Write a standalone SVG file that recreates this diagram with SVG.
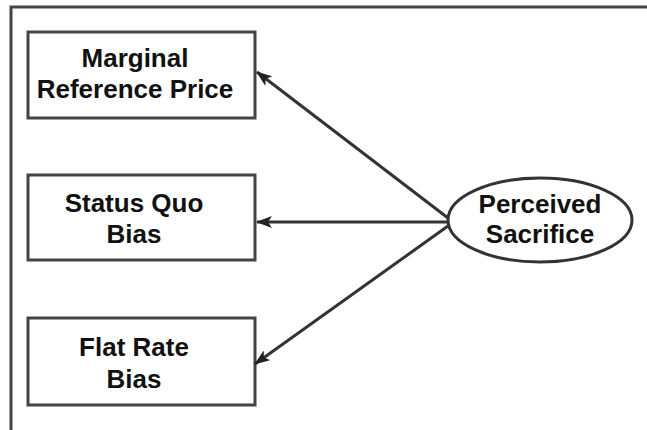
<svg xmlns="http://www.w3.org/2000/svg" width="647" height="430" viewBox="0 0 647 430">
<defs>
<marker id="ah" markerWidth="16" markerHeight="12" refX="15" refY="6" orient="auto" markerUnits="userSpaceOnUse">
<path d="M0,0 L16,6 L0,12 L4,6 Z" fill="#222"/>
</marker>
<style>
.box{fill:#fff;stroke:#444;stroke-width:3}
.lbl{font-family:"Liberation Sans",Arial,sans-serif;font-weight:bold;font-size:26px;fill:#111;text-anchor:middle}
.edge{stroke:#333;stroke-width:3;fill:none;marker-end:url(#ah)}
</style>
</defs>
<rect width="647" height="430" fill="#fff"/>
<rect x="11" y="7" width="700" height="500" fill="none" stroke="#444" stroke-width="3"/>
<g id="n1"><rect class="box" x="28" y="32" width="227" height="86"/><text class="lbl" x="135" y="67">Marginal</text><text class="lbl" x="135" y="98">Reference Price</text></g>
<g id="n2"><rect class="box" x="28" y="175" width="227" height="85"/><text class="lbl" x="134" y="212">Status Quo</text><text class="lbl" x="134" y="243">Bias</text></g>
<g id="n3"><rect class="box" x="28" y="318" width="227" height="87"/><text class="lbl" x="134" y="356">Flat Rate</text><text class="lbl" x="134" y="388">Bias</text></g>
<g id="n4"><ellipse cx="540" cy="220" rx="92" ry="42" fill="#fff" stroke="#333" stroke-width="3"/><text class="lbl" x="540" y="213">Perceived</text><text class="lbl" x="540" y="243">Sacrifice</text></g>
<g id="edges">
<line class="edge" x1="448" y1="218" x2="257" y2="72"/>
<line class="edge" x1="448" y1="222" x2="257" y2="222"/>
<line class="edge" x1="448" y1="226" x2="255" y2="364"/>
</g>
</svg>
